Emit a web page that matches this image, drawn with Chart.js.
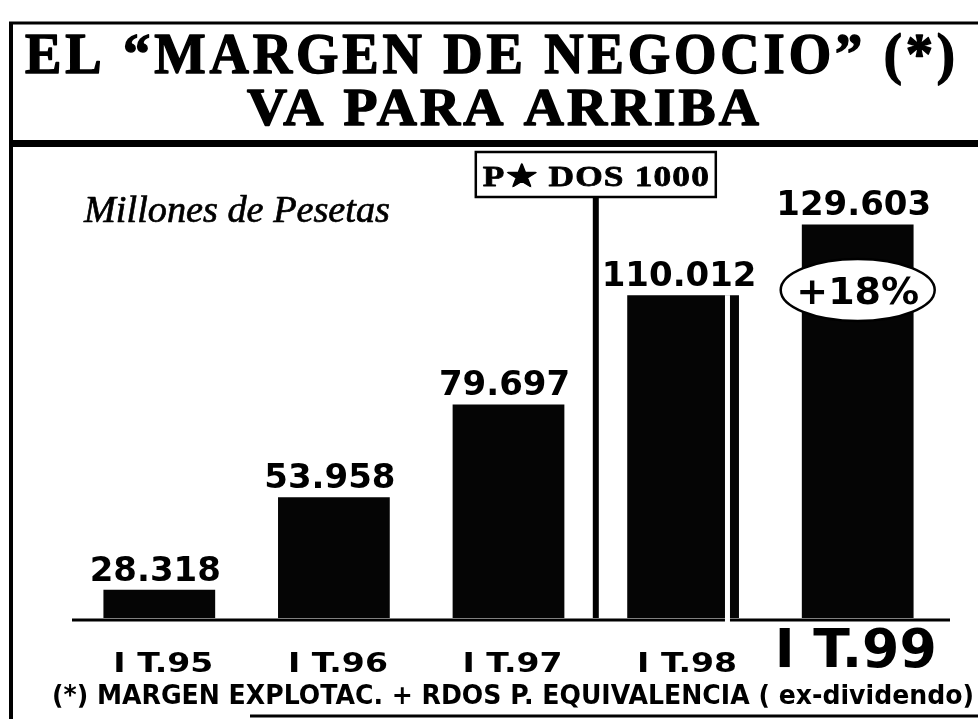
<!DOCTYPE html>
<html lang="es">
<head>
<meta charset="utf-8">
<title>Margen de negocio</title>
<script src="https://cdn.jsdelivr.net/npm/chart.js@4.4.1/dist/chart.umd.min.js"></script>
<style>
  html, body { margin: 0; padding: 0; background: #fff; }
  #wrap { position: relative; width: 978px; height: 719px; overflow: hidden; }
</style>
</head>
<body>
<div id="wrap">
  <canvas id="chart" width="978" height="719"></canvas>
</div>
<script>
const categories = ['I T.95', 'I T.96', 'I T.97', 'I T.98', 'I T.99'];
const margen = [28.318, 53.958, 79.697, 110.012, 129.603];
const titleLines = ['EL \u201CMARGEN DE NEGOCIO\u201D (*)', 'VA PARA ARRIBA'];
const unitsLabel = 'Millones de Pesetas';
const milestoneLabel = 'P\u2605 DOS 1000';
const growthLabel = '+18%';
const footnote = '(*) MARGEN EXPLOTAC. + RDOS P. EQUIVALENCIA ( ex-dividendo)';

const SERIF = '"Liberation Serif", serif';
const SANS = '"DejaVu Sans", sans-serif';

// text squeezed/stretched horizontally to a given width, optional outline to thicken it
function fitText(ctx, text, x, y, width, font, align, weight, spacing) {
    ctx.save();
    ctx.font = font;
    ctx.letterSpacing = (spacing || 0) + 'px';
    let w = ctx.measureText(text).width;
    if (spacing) w -= spacing; // trailing space after the last glyph
    ctx.translate(x, y);
    ctx.scale(width / w, 1);
    ctx.textAlign = 'left';
    ctx.textBaseline = 'alphabetic';
    const x0 = align === 'left' ? 0 : -w / 2;
    ctx.fillText(text, x0, 0);
    if (weight) {
        ctx.lineWidth = weight;
        ctx.lineJoin = 'round';
        ctx.strokeText(text, x0, 0);
    }
    ctx.restore();
}

function hLine(ctx, x1, x2, y, lw) {
    ctx.lineWidth = lw;
    ctx.beginPath();
    ctx.moveTo(x1, y);
    ctx.lineTo(x2, y);
    ctx.stroke();
}

const decorations = {
    id: 'decorations',
    afterDatasetsDraw(chart) {
        const ctx = chart.ctx;
        const area = chart.chartArea;
        const xs = chart.scales.x;
        const bars = chart.getDatasetMeta(0).data;
        ctx.save();
        ctx.fillStyle = '#000';
        ctx.strokeStyle = '#000';

        // frame round the heading
        hLine(ctx, 9, 978, 23, 3);
        ctx.fillRect(9, 22, 4, 697);
        ctx.fillRect(9, 140, 969, 7);
        hLine(ctx, 250, 978, 716, 3);

        // heading
        fitText(ctx, titleLines[0], 490, 73, 930, 'bold 56px ' + SERIF, 'center', 1.5, 4);
        fitText(ctx, titleLines[1], 503, 125, 512, 'bold 52px ' + SERIF, 'center', 1.5, 3);

        fitText(ctx, unitsLabel, 84, 222, 306, 'italic 38px ' + SERIF, 'left', 0.7);

        // baseline
        hLine(ctx, area.left, area.right + 5, area.bottom + 2, 3);

        // white split on the fourth bar
        const b4 = bars[3];
        ctx.fillStyle = '#fff';
        ctx.fillRect(b4.x + b4.width / 2 - 14, b4.y, 5, b4.base - b4.y);
        ctx.fillStyle = '#000';

        // milestone marker between 97 and 98
        const mx = (xs.getPixelForTick(2) + xs.getPixelForTick(3)) / 2;
        ctx.fillRect(mx - 3, 197, 6, area.bottom - 197);
        ctx.fillStyle = '#fff';
        ctx.fillRect(mx - 120, 152, 240, 45);
        ctx.fillStyle = '#000';
        ctx.lineWidth = 2.5;
        ctx.strokeRect(mx - 120, 152, 240, 45);
        fitText(ctx, milestoneLabel, mx, 186, 226, 'bold 30px ' + SERIF, 'center', 0.8, 1);

        // values above bars
        ctx.font = 'bold 34px ' + SANS;
        ctx.textAlign = 'center';
        ctx.textBaseline = 'alphabetic';
        bars.forEach((bar, i) => {
            ctx.fillText(margen[i].toFixed(3), bar.x - 4, bar.y - 9);
        });

        // growth badge on the last bar
        const b5 = bars[4];
        ctx.beginPath();
        ctx.ellipse(b5.x, 290, 77, 31, 0, 0, Math.PI * 2);
        ctx.fillStyle = '#fff';
        ctx.fill();
        ctx.lineWidth = 2.5;
        ctx.stroke();
        ctx.fillStyle = '#000';
        ctx.font = 'bold 38px ' + SANS;
        ctx.fillText(growthLabel, b5.x, 304);

        // category labels
        categories.forEach((c, i) => {
            const x = xs.getPixelForTick(i);
            if (i === categories.length - 1) {
                fitText(ctx, c, x - 2, 667, 162, 'bold 54px ' + SANS);
            } else {
                fitText(ctx, c, x + 4, 672, 100, 'bold 26px ' + SANS);
            }
        });

        fitText(ctx, footnote, 513, 704, 922, 'bold 27px ' + SANS);
        ctx.restore();
    }
};

new Chart(document.getElementById('chart'), {
    type: 'bar',
    data: {
        labels: categories,
        datasets: [{
            data: margen,
            backgroundColor: '#050505',
            borderWidth: 0,
            barPercentage: 0.8,
            categoryPercentage: 0.8
        }]
    },
    options: {
        responsive: false,
        devicePixelRatio: 1,
        animation: false,
        layout: { padding: { left: 72, right: 33, top: 187, bottom: 101 } },
        scales: {
            x: { display: false },
            y: { display: false, min: 20.5, max: 140 }
        },
        plugins: {
            legend: { display: false },
            tooltip: { enabled: false }
        }
    },
    plugins: [decorations]
});
</script>
</body>
</html>
